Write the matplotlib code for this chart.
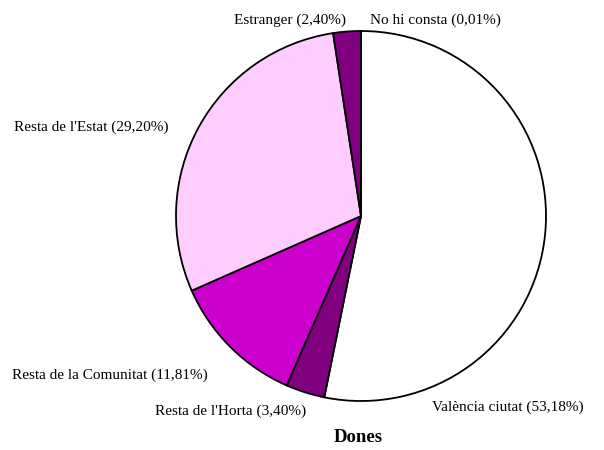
import matplotlib.pyplot as plt

labels = ['València ciutat', "Resta de l'Horta", 'Resta de la Comunitat',
          "Resta de l'Estat", 'Estranger', 'No hi consta']
values = [53.18, 3.40, 11.81, 29.20, 2.40, 0.01]
colors = ['#FFFFFF', '#800080', '#CC00CC', '#FFCCFF', '#800080', '#FFFFFF']

# label anchor (px from top-left) and alignment
label_pos = [(432, 407, 'left'), (306, 411, 'right'), (208, 375, 'right'),
             (168, 127, 'right'), (346, 20, 'right'), (370, 20, 'left')]

plt.rcParams['font.family'] = ['Liberation Serif', 'DejaVu Serif']

W, H = 604, 450
fig = plt.figure(figsize=(W / 100, H / 100), dpi=100)
ax = fig.add_axes([0, 0, 1, 1])
ax.axis('off')

ax.pie(values, colors=colors, startangle=90, counterclock=False,
       center=(361, H - 216), radius=185,
       wedgeprops=dict(edgecolor='black', linewidth=1.3))
ax.set_xlim(0, W)
ax.set_ylim(0, H)
ax.set_aspect('auto')

for lab, v, (x, y, ha) in zip(labels, values, label_pos):
    txt = f'{lab} ({v:.2f}%)'.replace('.', ',')
    ax.text(x, H - y, txt, ha=ha, va='center', fontsize=11)

ax.text(358, H - 438, 'Dones', ha='center', va='center', fontsize=13.5,
        fontweight='bold')

fig.savefig('out.png', dpi=100)
